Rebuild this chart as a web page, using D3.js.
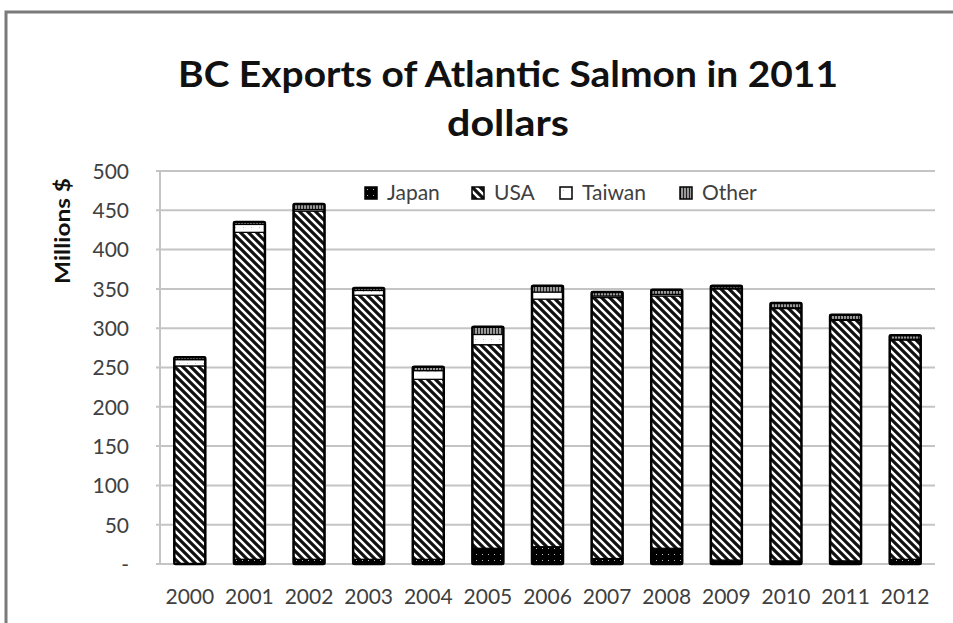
<!DOCTYPE html>
<html>
<head>
<meta charset="utf-8">
<script src="https://cdn.jsdelivr.net/npm/d3@7"></script>
<style>
  body { margin: 0; background: #fff; }
  svg { display: block; font-family: Lato, "Open Sans", sans-serif; }
</style>
</head>
<body>
<svg></svg>
<script>
const years = ["2000","2001","2002","2003","2004","2005","2006","2007","2008","2009","2010","2011","2012"];
const japan = [0, 6, 6, 6, 6, 20, 22, 7, 20, 5, 4, 4, 6];
const usa = [252, 416, 443, 336, 229, 259, 315, 332, 321, 345, 321, 306, 279];
const taiwan = [8, 10, 2, 6, 11, 13, 9, 2, 2, 1, 1, 1, 1];
const other = [3, 3, 7, 3, 5, 10, 8, 5, 6, 3, 6, 6, 5];
const seriesNames = ["Japan", "USA", "Taiwan", "Other"];
const yTicks = [0, 50, 100, 150, 200, 250, 300, 350, 400, 450, 500];

const width = 953, height = 623;
const margin = {left: 160, right: 18, top: 171, bottom: 59};

const svg = d3.select("svg").attr("width", width).attr("height", height);

// patterns
const defs = svg.append("defs");

let p = defs.append("pattern").attr("id", "pat-japan")
  .attr("patternUnits", "userSpaceOnUse").attr("width", 6).attr("height", 6);
p.append("rect").attr("width", 6).attr("height", 6).attr("fill", "#000");
p.append("rect").attr("x", 2).attr("y", 2).attr("width", 1).attr("height", 1).attr("fill", "#bbb");

p = defs.append("pattern").attr("id", "pat-usa")
  .attr("patternUnits", "userSpaceOnUse").attr("width", 8).attr("height", 8);
p.append("rect").attr("width", 8).attr("height", 8).attr("fill", "#fff");
p.append("path").attr("d", "M-2,-2 L10,10 M-2,6 L2,10 M6,-2 L10,2")
  .attr("stroke", "#111").attr("stroke-width", 3.2);

p = defs.append("pattern").attr("id", "pat-taiwan")
  .attr("patternUnits", "userSpaceOnUse").attr("width", 8).attr("height", 8);
p.append("rect").attr("width", 8).attr("height", 8).attr("fill", "#fff");
p.append("rect").attr("x", 3).attr("y", 3).attr("width", 1).attr("height", 1).attr("fill", "#bbb");

p = defs.append("pattern").attr("id", "pat-other")
  .attr("patternUnits", "userSpaceOnUse").attr("width", 3).attr("height", 3);
p.append("rect").attr("width", 3).attr("height", 3).attr("fill", "#999");
p.append("rect").attr("width", 1).attr("height", 3).attr("fill", "#222");

const fills = {Japan: "url(#pat-japan)", USA: "url(#pat-usa)", Taiwan: "url(#pat-taiwan)", Other: "url(#pat-other)"};

// outer frame
svg.append("rect")
  .attr("x", 6).attr("y", 12).attr("width", 1200).attr("height", 1000)
  .attr("fill", "none").attr("stroke", "#7a7a7a").attr("stroke-width", 3);

// title
svg.append("text")
  .attr("x", 508).attr("y", 87)
  .attr("text-anchor", "middle")
  .attr("textLength", 660).attr("lengthAdjust", "spacingAndGlyphs")
  .style("font-size", "37px").style("font-weight", "bold").attr("fill", "#111")
  .text("BC Exports of Atlantic Salmon in 2011");
svg.append("text")
  .attr("x", 508).attr("y", 136)
  .attr("text-anchor", "middle")
  .attr("textLength", 122).attr("lengthAdjust", "spacingAndGlyphs")
  .style("font-size", "37px").style("font-weight", "bold").attr("fill", "#111")
  .text("dollars");

const x = d3.scaleBand()
  .domain(years)
  .range([margin.left, width - margin.right])
  .paddingInner(0.48)
  .paddingOuter(0.24);

const y = d3.scaleLinear()
  .domain([0, 500])
  .range([height - margin.bottom, margin.top]);

// gridlines
svg.append("g")
  .selectAll("line")
  .data(yTicks)
  .enter().append("line")
    .attr("x1", margin.left - 4).attr("x2", width - margin.right)
    .attr("y1", d => y(d)).attr("y2", d => y(d))
    .attr("stroke", "#c4c4c4").attr("stroke-width", 2);

svg.append("line")
  .attr("x1", margin.left).attr("x2", margin.left)
  .attr("y1", y(0)).attr("y2", y(500))
  .attr("stroke", "#c4c4c4").attr("stroke-width", 2);

// y axis labels
const yAxis = svg.append("g")
  .attr("transform", `translate(${margin.left - 28},0)`)
  .call(d3.axisLeft(y).tickValues(yTicks).tickSize(0).tickFormat(d => d === 0 ? "-" : d));
yAxis.select(".domain").remove();
yAxis.selectAll("text")
  .style("font-family", "Lato, sans-serif").style("font-size", "21px").attr("fill", "#404040")
  .attr("dy", "0.35em");

svg.append("text")
  .attr("transform", "translate(70,231) rotate(-90)")
  .attr("text-anchor", "middle")
  .attr("textLength", 106).attr("lengthAdjust", "spacingAndGlyphs")
  .style("font-size", "21px").style("font-weight", "bold").attr("fill", "#111")
  .text("Millions $");

// x axis labels
const xAxis = svg.append("g")
  .attr("transform", `translate(0,${y(0) + 22})`)
  .call(d3.axisBottom(x).tickSize(0));
xAxis.select(".domain").remove();
xAxis.selectAll("text")
  .style("font-family", "Lato, sans-serif").style("font-size", "21px").attr("fill", "#404040")
  .attr("dy", "0.71em");

// stacked bars
const table = years.map((yr, i) => ({year: yr, Japan: japan[i], USA: usa[i], Taiwan: taiwan[i], Other: other[i]}));
const stack = d3.stack().keys(seriesNames)(table);

svg.append("g")
  .selectAll("g")
  .data(stack)
  .enter().append("g")
    .attr("fill", d => fills[d.key])
  .selectAll("rect")
  .data(d => d.filter(s => s[1] > s[0]))
  .enter().append("rect")
    .attr("x", d => x(d.data.year))
    .attr("y", d => y(d[1]))
    .attr("width", x.bandwidth())
    .attr("height", d => y(d[0]) - y(d[1]))
    .attr("stroke", "#000").attr("stroke-width", 1.2);

// bar outlines
svg.append("g")
  .selectAll("rect")
  .data(table)
  .enter().append("rect")
    .attr("x", d => x(d.year))
    .attr("y", d => y(d.Japan + d.USA + d.Taiwan + d.Other))
    .attr("width", x.bandwidth())
    .attr("height", d => y(0) - y(d.Japan + d.USA + d.Taiwan + d.Other))
    .attr("fill", "none").attr("stroke", "#000").attr("stroke-width", 2.5)
    .attr("rx", 1.5);

// legend
const legendX = [365, 472, 560, 680];
const legend = svg.append("g")
  .selectAll("g")
  .data(seriesNames)
  .enter().append("g")
    .attr("transform", (d, i) => `translate(${legendX[i]},187)`);
legend.append("rect")
  .attr("width", 12).attr("height", 12)
  .attr("fill", d => fills[d]).attr("stroke", "#000").attr("stroke-width", 1.5);
legend.append("text")
  .attr("x", 22).attr("y", 6).attr("dy", "0.35em")
  .style("font-size", "21px").attr("fill", "#404040")
  .text(d => d);
</script>
</body>
</html>
